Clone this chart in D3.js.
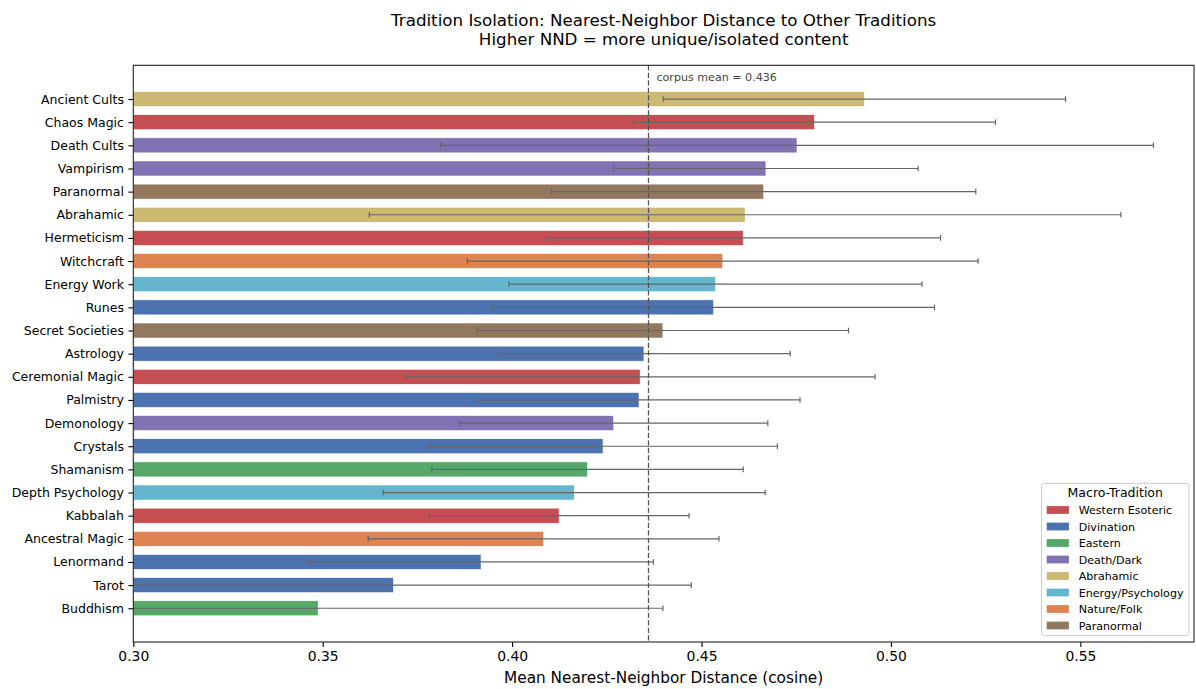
<!DOCTYPE html>
<html>
<head>
<meta charset="utf-8">
<script src="https://cdn.jsdelivr.net/npm/d3@7"></script>
<style>
  html, body { margin: 0; padding: 0; background: #fff; }
  svg { display: block; font-family: "DejaVu Sans", sans-serif; }
</style>
</head>
<body>
<svg id="chart" width="1196" height="689"></svg>
<script>
// ---- data ----
const traditions = ["Ancient Cults","Chaos Magic","Death Cults","Vampirism","Paranormal","Abrahamic","Hermeticism","Witchcraft","Energy Work","Runes","Secret Societies","Astrology","Ceremonial Magic","Palmistry","Demonology","Crystals","Shamanism","Depth Psychology","Kabbalah","Ancestral Magic","Lenormand","Tarot","Buddhism"];
const meanNND = [0.4930,0.4798,0.4752,0.4670,0.4664,0.4615,0.4610,0.4556,0.4537,0.4532,0.4398,0.4348,0.4338,0.4335,0.4268,0.4240,0.4199,0.4164,0.4124,0.4083,0.3918,0.3687,0.3488];
const stdNND = [0.0531,0.0478,0.0941,0.0402,0.0560,0.0992,0.0521,0.0674,0.0545,0.0583,0.0490,0.0386,0.0620,0.0425,0.0407,0.0460,0.0411,0.0504,0.0343,0.0463,0.0455,0.0786,0.0910];
const macroOf = ["Abrahamic","Western Esoteric","Death/Dark","Death/Dark","Paranormal","Abrahamic","Western Esoteric","Nature/Folk","Energy/Psychology","Divination","Paranormal","Divination","Western Esoteric","Divination","Death/Dark","Divination","Eastern","Energy/Psychology","Western Esoteric","Nature/Folk","Divination","Divination","Eastern"];
const macroNames = ["Western Esoteric","Divination","Eastern","Death/Dark","Abrahamic","Energy/Psychology","Nature/Folk","Paranormal"];
const macroColors = ["#C44E52","#4C72B0","#55A868","#8172B3","#CCB974","#64B5CD","#DD8452","#937860"];
const corpusMean = 0.436;
const xTicks = [0.30,0.35,0.40,0.45,0.50,0.55];

const rows = traditions.map((t, i) => ({name: t, mean: meanNND[i], std: stdNND[i], macro: macroOf[i], idx: i}));

// ---- layout ----
const L = 133.3, R = 1194, T = 65.3, B = 642;
const svg = d3.select("#chart");
const color = d3.scaleOrdinal().domain(macroNames).range(macroColors);
const x = d3.scaleLinear().domain([0.30, 0.58]).range([L, R]);
const y = d3.scaleLinear().domain([-1.4575, 23.4575]).range([T, B]);
const barH = y(0.65) - y(0);

svg.append("defs").append("clipPath").attr("id", "plotclip")
  .append("rect").attr("x", L).attr("y", T).attr("width", R - L).attr("height", B - T);

// title
const title = svg.append("text").attr("x", (L + R) / 2).attr("text-anchor", "middle")
  .attr("font-size", 16.7).attr("fill", "#000");
title.append("tspan").attr("x", (L + R) / 2).attr("y", 26).text("Tradition Isolation: Nearest-Neighbor Distance to Other Traditions");
title.append("tspan").attr("x", (L + R) / 2).attr("y", 44.5).text("Higher NND = more unique/isolated content");

const plot = svg.append("g").attr("clip-path", "url(#plotclip)");

// bars
plot.selectAll("rect.bar").data(rows).enter().append("rect")
  .attr("class", "bar")
  .attr("x", x(0.30))
  .attr("y", d => y(d.idx) - barH / 2)
  .attr("width", d => x(d.mean) - x(0.30))
  .attr("height", barH)
  .attr("fill", d => color(d.macro))
  .attr("stroke", "#fff").attr("stroke-width", 0.6);

// error bars
const eg = plot.append("g").attr("stroke", "#666").attr("stroke-width", 1.2);
rows.forEach(d => {
  const yc = y(d.idx);
  const x0 = x(d.mean - d.std), x1 = x(d.mean + d.std);
  eg.append("line").attr("x1", x0).attr("x2", x1).attr("y1", yc).attr("y2", yc);
  eg.append("line").attr("x1", x0).attr("x2", x0).attr("y1", yc - 2.8).attr("y2", yc + 2.8);
  eg.append("line").attr("x1", x1).attr("x2", x1).attr("y1", yc - 2.8).attr("y2", yc + 2.8);
});

// mean line
svg.append("line").attr("x1", x(corpusMean)).attr("x2", x(corpusMean))
  .attr("y1", T).attr("y2", B)
  .attr("stroke", "#555").attr("stroke-width", 1.3).attr("stroke-dasharray", "5.2,2.3");
svg.append("text").attr("x", x(corpusMean) + 8).attr("y", 81)
  .attr("font-size", 11.1).attr("fill", "#444").text("corpus mean = " + corpusMean.toFixed(3));

// axes
const xAxis = d3.axisBottom(x).tickValues(xTicks).tickFormat(d3.format(".2f")).tickSize(4.9).tickPadding(4.5);
const gx = svg.append("g").attr("transform", `translate(0,${B})`).call(xAxis);
gx.select(".domain").remove();
gx.selectAll("line").attr("stroke", "#000").attr("stroke-width", 1.1);
gx.selectAll("text").attr("font-size", 13.9).attr("fill", "#000").attr("font-family", "DejaVu Sans");

const yAxis = d3.axisLeft(y).tickValues(d3.range(traditions.length)).tickFormat(i => traditions[i]).tickSize(4.9).tickPadding(4.5);
const gy = svg.append("g").attr("transform", `translate(${L},0)`).call(yAxis);
gy.select(".domain").remove();
gy.selectAll("line").attr("stroke", "#000").attr("stroke-width", 1.1);
gy.selectAll("text").attr("font-size", 12.5).attr("fill", "#000").attr("font-family", "DejaVu Sans");

// spines
svg.append("rect").attr("x", L).attr("y", T).attr("width", R - L).attr("height", B - T)
  .attr("fill", "none").attr("stroke", "#222").attr("stroke-width", 1.1);

// x label
svg.append("text").attr("x", (L + R) / 2).attr("y", 683).attr("text-anchor", "middle")
  .attr("font-size", 15.3).attr("fill", "#000").text("Mean Nearest-Neighbor Distance (cosine)");

// legend
const lg = svg.append("g");
const lgX = 1041.5, lgY = 483.3, lgW = 147.5, lgH = 152.4;
lg.append("rect").attr("x", lgX).attr("y", lgY).attr("width", lgW).attr("height", lgH)
  .attr("rx", 3).attr("fill", "#fff").attr("fill-opacity", 0.85).attr("stroke", "#ccc").attr("stroke-width", 1);
lg.append("text").attr("x", lgX + lgW / 2).attr("y", 497.3).attr("text-anchor", "middle")
  .attr("font-size", 12.5).attr("fill", "#000").text("Macro-Tradition");
macroNames.forEach((m, k) => {
  const cy = 510 + k * 16.5;
  lg.append("rect").attr("x", 1046.7).attr("y", cy - 3.9).attr("width", 22.2).attr("height", 7.8)
    .attr("fill", color(m));
  lg.append("text").attr("x", 1078.7).attr("y", cy + 4).attr("font-size", 11.1).attr("fill", "#000").text(m);
});
</script>
</body>
</html>
